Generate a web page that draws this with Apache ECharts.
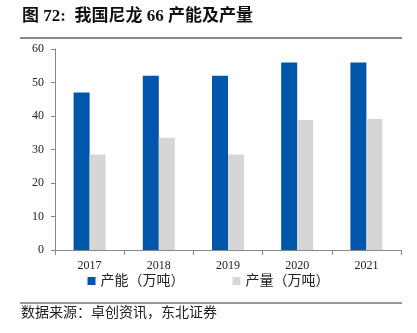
<!DOCTYPE html>
<html><head><meta charset="utf-8">
<script src="https://cdn.jsdelivr.net/npm/echarts@6/dist/echarts.min.js"></script>
<style>html,body{margin:0;padding:0;background:#fff}#c{width:417px;height:333px}</style>
</head><body><div id="c"></div>
<script>
const categories = ['2017','2018','2019','2020','2021'];
const capacity = [47, 52, 52, 56, 56];
const output = [28.5, 33.5, 28.5, 38.8, 39.1];
const seriesNames = ['产能（万吨）','产量（万吨）'];
const yTicks = {min:0, max:60, interval:10};
const titleText = '图 72:  我国尼龙 66 产能及产量';
const sourceText = '数据来源：卓创资讯，东北证券';

const serif = '"Liberation Serif","Noto Sans CJK SC",serif';
const chart = echarts.init(document.getElementById('c'));
chart.setOption({
  animation:false,
  grid:{left:55,right:16,top:49,bottom:83},
  legend:{
    data:seriesNames, bottom:40, left:'center', itemWidth:8, itemHeight:8, itemGap:48,
    icon:'rect',
    textStyle:{fontFamily:serif,fontSize:14,color:'#222'}
  },
  xAxis:{
    type:'category', data:categories,
    axisLine:{lineStyle:{color:'#888'}},
    axisTick:{show:true,length:5,lineStyle:{color:'#888'}},
    axisLabel:{fontFamily:serif,fontSize:12,color:'#222',margin:10}
  },
  yAxis:{
    type:'value', min:yTicks.min, max:yTicks.max, interval:yTicks.interval,
    splitLine:{show:false},
    axisLine:{show:true,lineStyle:{color:'#888'}},
    axisTick:{show:true,length:4,lineStyle:{color:'#888'}},
    axisLabel:{fontFamily:serif,fontSize:12,color:'#222',margin:11}
  },
  series:[
    {name:seriesNames[0],type:'bar',data:capacity,barWidth:16,barGap:'0%',itemStyle:{color:'#0056AA'}},
    {name:seriesNames[1],type:'bar',data:output,barWidth:16,itemStyle:{color:'#D6D6D6'}}
  ],
  graphic:[
    {type:'text',left:22,top:8,style:{text:titleText,font:'bold 17px '+serif,fill:'#111'}},
    {type:'line',shape:{x1:20,y1:38,x2:402,y2:38},style:{stroke:'#888',lineWidth:2}},
    {type:'line',shape:{x1:20,y1:303,x2:402,y2:303},style:{stroke:'#999',lineWidth:2}},
    {type:'text',left:21,top:306,style:{text:sourceText,font:'14px '+serif,fill:'#222'}}
  ]
});
</script></body></html>
